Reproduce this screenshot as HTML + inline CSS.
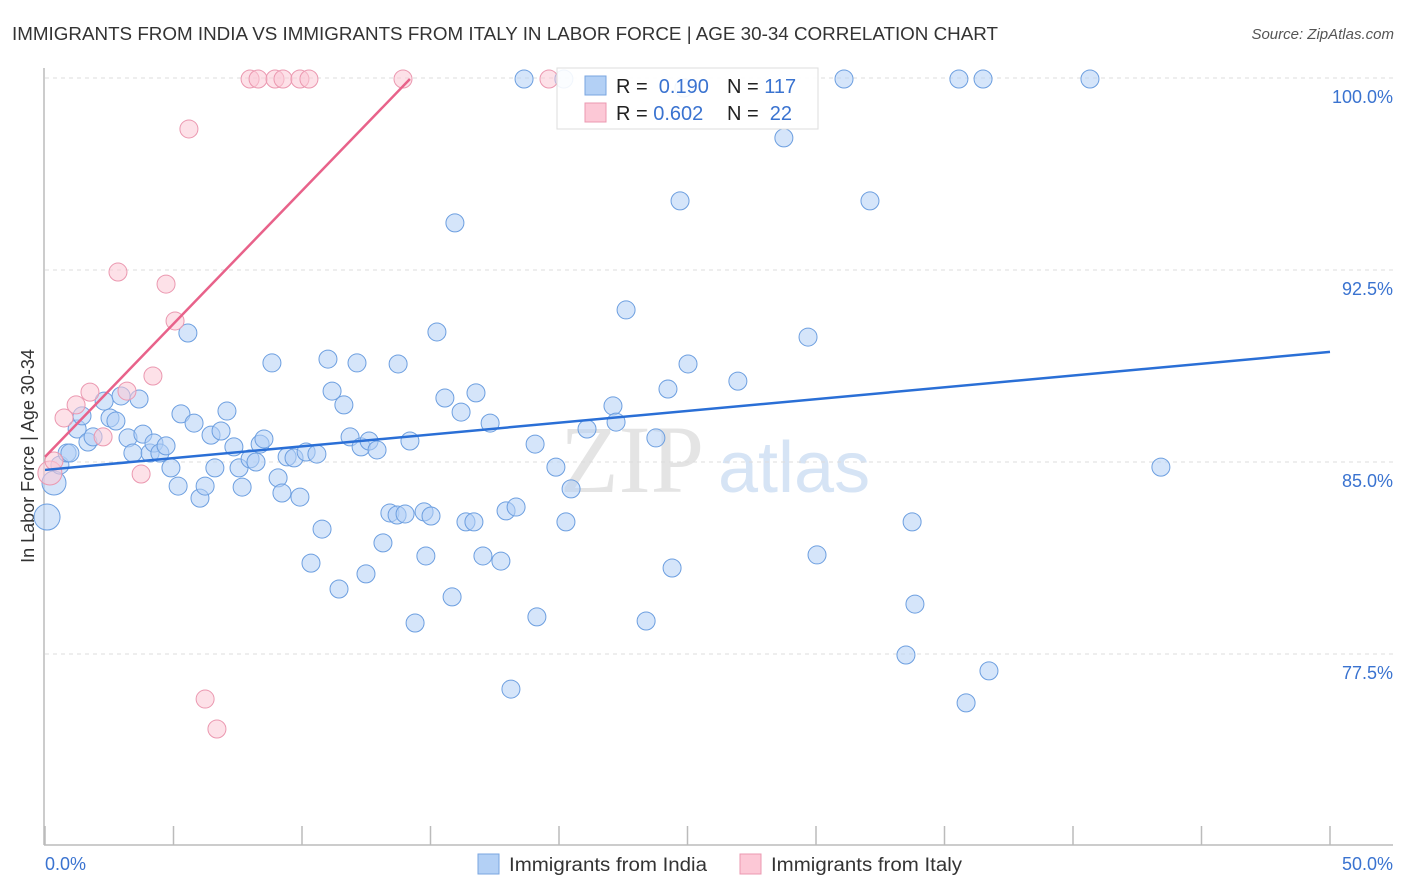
<!DOCTYPE html>
<html><head><meta charset="utf-8"><style>
body{margin:0;background:#fff;width:1406px;height:892px;overflow:hidden;font-family:"Liberation Sans",sans-serif}
svg{display:block}
</style></head><body>
<svg id="chart" width="1406" height="892">
<text x="12" y="40" font-size="18" fill="#333" textLength="986" lengthAdjust="spacingAndGlyphs">IMMIGRANTS FROM INDIA VS IMMIGRANTS FROM ITALY IN LABOR FORCE | AGE 30-34 CORRELATION CHART</text>
<text x="1394" y="39" font-size="15" fill="#555" font-style="italic" text-anchor="end">Source: ZipAtlas.com</text>
<text x="560" y="492" font-size="96" fill="#e4e4e4" font-family="Liberation Serif,serif">ZIP</text>
<text x="718" y="492" font-size="72" fill="#d6e4f5">atlas</text>
<text transform="translate(34,456) rotate(-90)" font-size="18" fill="#333" text-anchor="middle">In Labor Force | Age 30-34</text>
<g id="grid"></g><g id="axes"></g><g id="pts"></g><g id="lines"></g>
<g>
<rect x="557" y="68" width="261" height="61" fill="#fff" fill-opacity="0.9" stroke="#ddd"/>
<rect x="585" y="76" width="21" height="19" fill="#b3d0f5" stroke="#7aa6e0"/>
<rect x="585" y="103" width="21" height="19" fill="#fcc8d6" stroke="#eb98b0"/>
<text x="616" y="93" font-size="20" fill="#222">R = <tspan fill="#3a73d0">&#160;0.190</tspan><tspan x="727">N = </tspan><tspan fill="#3a73d0">117</tspan></text>
<text x="616" y="120" font-size="20" fill="#222">R = <tspan fill="#3a73d0">0.602</tspan><tspan x="727">N = </tspan><tspan fill="#3a73d0">&#160;22</tspan></text>
</g>
<g>
<rect x="478" y="854" width="21" height="20" fill="#b3d0f5" stroke="#7aa6e0"/>
<text x="509" y="871" font-size="19" fill="#333" textLength="198" lengthAdjust="spacingAndGlyphs">Immigrants from India</text>
<rect x="740" y="854" width="21" height="20" fill="#fcc8d6" stroke="#eb98b0"/>
<text x="771" y="871" font-size="19" fill="#333" textLength="191" lengthAdjust="spacingAndGlyphs">Immigrants from Italy</text>
</g>
</svg>
<script>
const indiaX=[0.35,0.08,0.58,0.86,0.97,1.25,1.44,1.67,1.87,2.30,2.53,2.76,2.96,3.23,3.42,3.66,3.81,4.09,4.24,4.47,4.71,4.90,5.18,5.29,5.56,5.80,6.03,6.23,6.46,6.61,6.85,7.08,7.35,7.55,7.67,7.98,8.21,8.37,8.52,8.83,9.07,9.22,9.42,9.69,9.92,10.16,10.35,10.58,10.78,11.01,11.17,11.44,11.63,11.87,12.14,12.30,12.49,12.61,12.92,13.15,13.42,13.70,13.74,14.01,14.20,14.40,14.75,14.82,15.02,15.25,15.56,15.84,15.95,16.19,16.38,16.69,16.77,17.04,17.32,17.74,17.94,18.13,18.33,18.64,19.07,19.14,19.88,20.19,20.27,20.47,21.09,22.10,22.22,22.61,23.39,23.77,24.24,24.40,24.71,25.02,26.96,28.75,29.69,30.04,31.09,32.10,33.50,33.74,33.85,35.56,35.84,36.50,36.73,40.66,43.42,24.86];
const indiaY=[84.18,82.85,84.88,85.35,85.35,86.29,86.80,85.78,85.98,87.38,86.72,86.60,87.58,85.94,85.35,87.46,86.09,85.35,85.74,85.35,85.63,84.77,84.06,86.88,90.04,86.52,83.59,84.06,86.05,84.77,86.21,86.99,85.59,84.77,84.02,85.12,85.00,85.70,85.90,88.87,84.38,83.79,85.20,85.16,83.63,85.39,81.05,85.31,82.38,89.02,87.77,80.04,87.23,85.98,88.87,85.59,80.63,85.82,85.47,81.84,83.01,82.93,88.83,82.97,85.82,78.71,83.05,81.33,82.89,90.08,87.50,79.73,94.34,86.95,82.66,82.66,87.70,81.33,86.52,81.13,83.09,76.13,83.24,99.96,85.70,78.95,84.80,99.96,82.66,83.95,86.29,87.19,86.56,90.94,78.79,85.94,87.85,80.86,95.20,88.83,88.16,97.66,89.88,81.37,99.96,95.20,77.46,82.66,79.45,99.96,75.59,99.96,76.84,99.96,84.80,99.61];
const italyX=[0.19,0.35,0.74,1.21,1.75,2.26,2.84,3.19,3.74,4.20,4.71,5.06,5.60,6.23,6.69,7.98,8.29,8.95,9.26,9.92,10.27,13.93,19.61];
const italyY=[84.57,85.04,86.72,87.23,87.73,85.98,92.42,87.77,84.53,88.36,91.95,90.51,98.01,75.74,74.57,99.96,99.96,99.96,99.96,99.96,99.96,99.96,99.96];
const indiaTrend=[[0,84.69],[50,89.30]];
const italyTrend=[[0,85.20],[14.2,99.96]];
const yTicks=[100,92.5,85,77.5];
const yTickLabels=["100.0%","92.5%","85.0%","77.5%"];
const xTicks=[0,5,10,15,20,25,30,35,40,45,50];
const NS='http://www.w3.org/2000/svg';
const sx=v=>45+v/50*1285;
const sy=v=>78+(100-v)/7.5*192;
function mk(tag,attrs,parent){const e=document.createElementNS(NS,tag);for(const k in attrs)e.setAttribute(k,attrs[k]);document.getElementById(parent).appendChild(e);return e;}
yTicks.forEach((t,i)=>{
 const g=mk('line',{x1:45,x2:1393,y1:sy(t),y2:sy(t),stroke:'#ddd','stroke-dasharray':'4,4'},'grid');
 
 
 const l=mk('text',{x:1393,y:sy(t)+25,'font-size':18,fill:'#3a73d0','text-anchor':'end'},'grid');
 l.textContent=yTickLabels[i];
 
 
});
const ax=mk('line',{x1:44,x2:44,y1:68,y2:845,stroke:'#bbb','stroke-width':1.5},'axes');


const bx=mk('line',{x1:44,x2:1393,y1:845,y2:845,stroke:'#bbb','stroke-width':1.5},'axes');


xTicks.forEach(t=>{const k=mk('line',{x1:sx(t),x2:sx(t),y1:826,y2:845,stroke:'#bbb','stroke-width':1.5},'axes');
 
 });
const x0=mk('text',{x:45,y:870,'font-size':18,fill:'#3a73d0'},'axes');x0.textContent='0.0%';


const x1=mk('text',{x:1393,y:870,'font-size':18,fill:'#3a73d0','text-anchor':'end'},'axes');x1.textContent='50.0%';


indiaX.forEach((v,i)=>{const r=i==0?12:(i==1?13:9);
 const c=mk('circle',{cx:sx(v),cy:sy(indiaY[i]),r:r,fill:'#b3d0f5','fill-opacity':0.55,stroke:'#6d9fe0','stroke-width':1},'pts');
 
 });
italyX.forEach((v,i)=>{const r=i==0?12:9;
 const c=mk('circle',{cx:sx(v),cy:sy(italyY[i]),r:r,fill:'#fcc8d6','fill-opacity':0.55,stroke:'#eb98b0','stroke-width':1},'pts');
 
 });
const tl1=mk('line',{x1:sx(indiaTrend[0][0]),y1:sy(indiaTrend[0][1]),x2:sx(indiaTrend[1][0]),y2:sy(indiaTrend[1][1]),stroke:'#2a6fd6','stroke-width':2.5},'lines');


const tl2=mk('line',{x1:sx(italyTrend[0][0]),y1:sy(italyTrend[0][1]),x2:sx(italyTrend[1][0]),y2:sy(italyTrend[1][1]),stroke:'#e8628a','stroke-width':2.5},'lines');


</script>
</body></html>
